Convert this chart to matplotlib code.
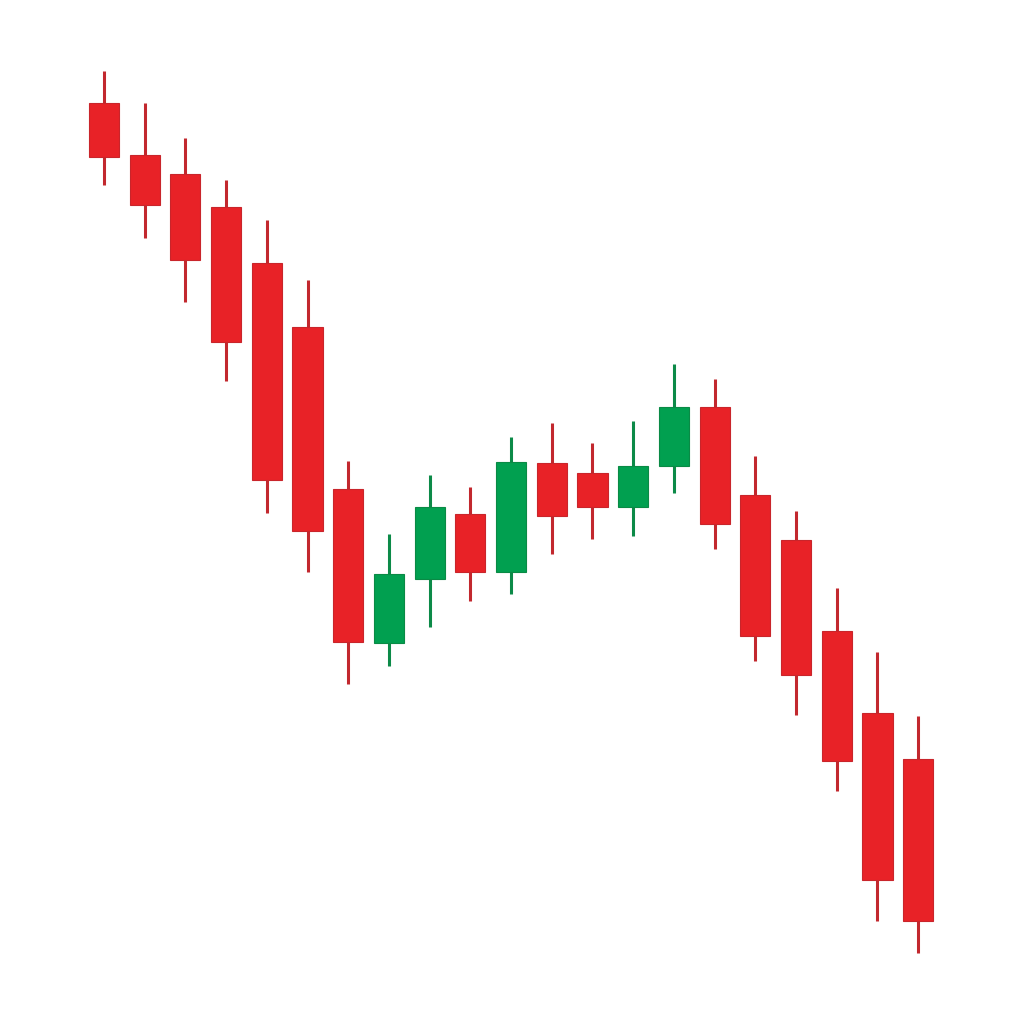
import matplotlib
matplotlib.use("Agg")
import matplotlib.pyplot as plt
import numpy as np

# candle values
opens = [89.7, 84.5, 82.6, 79.3, 73.7, 67.3, 51.1, 35.7, 42.1, 48.6, 42.8,
         53.7, 52.7, 49.3, 53.4, 59.3, 50.5, 46.0, 36.9, 28.7, 24.1]
closes = [84.3, 79.5, 74.0, 65.8, 52.0, 46.9, 35.8, 42.6, 49.3, 42.8, 53.8,
          48.4, 49.3, 53.4, 59.3, 47.6, 36.4, 32.5, 23.9, 12.0, 7.9]
highs = [92.9, 89.7, 86.2, 82.0, 78.0, 72.0, 53.9, 46.6, 52.5, 51.3, 56.3,
         57.7, 55.7, 57.9, 63.6, 62.1, 54.4, 48.9, 41.2, 34.8, 28.4]
lows = [81.5, 76.2, 69.8, 61.9, 48.7, 42.8, 31.6, 33.4, 37.3, 39.9, 40.6,
        44.6, 46.1, 46.4, 50.7, 45.1, 33.9, 28.5, 20.9, 7.9, 4.7]

x = np.arange(len(opens))
opens = np.array(opens)
closes = np.array(closes)
up = closes > opens

body_col = np.where(up, "#01a050", "#e82227")
wick_col = np.where(up, "#0c8a48", "#c2282e")
edge_col = np.where(up, "#0a8a45", "#c9252b")

fig = plt.figure(figsize=(10.24, 10.24), dpi=100)
ax = fig.add_axes([0, 0, 1, 1])

ax.vlines(x, lows, highs, colors=wick_col, linewidth=2.2, zorder=1)
ax.bar(x, np.abs(closes - opens), bottom=np.minimum(opens, closes),
       width=0.74, color=body_col, edgecolor=edge_col, linewidth=0.8, zorder=2)

ax.set_xlim(-2.555, 22.6)
ax.set_ylim(-2.4, 100)
ax.axis("off")

fig.savefig("out.png", dpi=100, facecolor="white")
